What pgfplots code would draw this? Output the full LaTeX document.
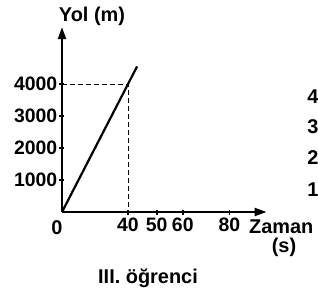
\documentclass[border=0pt]{standalone}
\usepackage{pgfplots}
\pgfplotsset{compat=1.18}
\usetikzlibrary{arrows.meta}
\usepackage{fontspec}
\setmainfont{Liberation Sans}
\begin{document}
\begin{tikzpicture}[x=1bp,y=1bp,font=\fontsize{20}{23}\selectfont\bfseries]
\path[use as bounding box] (-62,-84) rectangle (256,212);
\begin{axis}[
  anchor=origin, at={(0,0)},
  x=1.65bp, y=0.032bp,
  xmin=0, xmax=124, ymin=0, ymax=5781,
  enlargelimits=false,
  axis lines=left,
  axis line style={line width=2.2bp, -{Triangle[length=12bp,width=8bp]}},
  xtick={40,57.4,73.2,101.4},
  xticklabels={40,50,60,80},
  ytick={1000,2000,3000,4000},
  yticklabels={1000,2000,3000,4000},
  tick style={line width=1.6bp, black},
  major tick length=5bp,
  tick align=center,
  ticklabel style={font=\fontsize{19.5}{22}\selectfont\bfseries, inner sep=2bp},
  xticklabel style={yshift=-1bp},
  clip=false,
]
\addplot[black, line width=2.2bp] coordinates {(0,0) (45.5,4550)};
\addplot[black, line width=0.9bp, dash pattern=on 5bp off 3bp] coordinates {(0,4000) (40,4000) (40,0)};
\end{axis}
\node[inner sep=0pt] at (30,196) {Yol (m)};
\node[inner sep=0pt] at (-5,-16) {0};
\node[anchor=west, inner sep=0pt] at (187,-15) {Zaman};
\node[inner sep=0pt] at (222,-35) {(s)};
\node[inner sep=0pt] at (86,-66) {III. öğrenci};
\node[inner sep=0pt] at (251,115) {4};
\node[inner sep=0pt] at (251,85) {3};
\node[inner sep=0pt] at (251,54) {2};
\node[inner sep=0pt] at (251,22) {1};
\end{tikzpicture}
\end{document}
